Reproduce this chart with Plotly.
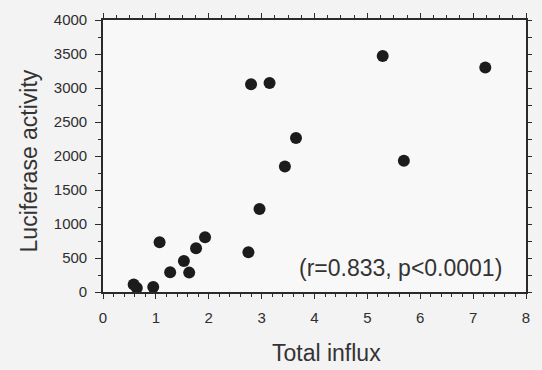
import plotly.graph_objects as go

# Data
influx = [0.58, 0.64, 0.95, 1.07, 1.27, 1.53, 1.63, 1.76, 1.93, 2.75, 2.80, 2.96, 3.15, 3.44, 3.65, 5.29, 5.69, 7.23]
luciferase = [110, 60, 75, 730, 290, 455, 285, 645, 805, 585, 3055, 1220, 3075, 1845, 2265, 3470, 1930, 3300]

x_ticks = [0, 1, 2, 3, 4, 5, 6, 7, 8]
y_ticks = [0, 500, 1000, 1500, 2000, 2500, 3000, 3500, 4000]

x_title = "Total influx"
y_title = "Luciferase activity"
stat_text = "(r=0.833, p<0.0001)"

axis_color = "#2a2a2a"
text_color = "#333333"
tick_font = dict(family="Liberation Sans, Arial, sans-serif", size=15, color="#2e2e2e")

fig = go.Figure()
fig.add_trace(go.Scatter(
    x=influx, y=luciferase, mode="markers",
    marker=dict(size=12, color="#1c1c1c", line=dict(width=0)),
    cliponaxis=False, showlegend=False, hoverinfo="x+y",
))
# invisible companion trace so the top/right axes are drawn
fig.add_trace(go.Scatter(
    x=influx, y=luciferase, mode="markers", xaxis="x2", yaxis="y2",
    marker=dict(size=1, opacity=0), showlegend=False, hoverinfo="skip",
))

fig.update_layout(
    width=542, height=370,
    margin=dict(l=103, r=16, t=11, b=78),
    paper_bgcolor="#f3f3f3",
    plot_bgcolor="#f8f8f8",
    xaxis=dict(
        range=[0, 8], tickvals=x_ticks, ticktext=[str(v) for v in x_ticks],
        showline=True, linecolor=axis_color, linewidth=1.6,
        ticks="outside", ticklen=5, tickwidth=1.3, tickcolor=axis_color,
        minor=dict(dtick=0.2, ticks="outside", ticklen=3, tickwidth=1.1, tickcolor=axis_color, showgrid=False),
        showgrid=False, zeroline=False, tickfont=tick_font, ticklabelstandoff=6,
        fixedrange=True,
    ),
    xaxis2=dict(
        range=[0, 8], overlaying="x", side="top", matches="x",
        showline=True, linecolor=axis_color, linewidth=1.6,
        tickvals=x_ticks, showticklabels=False,
        ticks="outside", ticklen=5, tickwidth=1.3, tickcolor=axis_color,
        minor=dict(dtick=0.25, ticks="outside", ticklen=3, tickwidth=1.1, tickcolor=axis_color, showgrid=False),
        showgrid=False, zeroline=False,
    ),
    yaxis=dict(
        range=[0, 4000], tickvals=y_ticks, ticktext=[str(v) for v in y_ticks],
        showline=True, linecolor=axis_color, linewidth=1.6,
        ticks="outside", ticklen=6, tickwidth=1.3, tickcolor=axis_color,
        minor=dict(dtick=250, ticks="outside", ticklen=3, tickwidth=1.1, tickcolor=axis_color, showgrid=False),
        showgrid=False, zeroline=False, tickfont=tick_font, ticklabelstandoff=5,
        fixedrange=True,
    ),
    yaxis2=dict(
        range=[0, 4000], overlaying="y", side="right", matches="y",
        showline=True, linecolor=axis_color, linewidth=1.6,
        dtick=250, tick0=0, showticklabels=False,
        ticks="outside", ticklen=4, tickwidth=1.2, tickcolor=axis_color,
        showgrid=False, zeroline=False,
    ),
    annotations=[
        dict(text=x_title, xref="paper", yref="paper", x=0.528, y=-0.224,
             xanchor="center", yanchor="middle", showarrow=False,
             font=dict(family="Liberation Sans, Arial, sans-serif", size=23, color=text_color)),
        dict(text=y_title, xref="paper", yref="paper", x=-0.176, y=0.482,
             xanchor="center", yanchor="middle", showarrow=False, textangle=-90,
             font=dict(family="Liberation Sans, Arial, sans-serif", size=23, color=text_color)),
        dict(text=stat_text, xref="paper", yref="paper", x=0.7025, y=0.089,
             xanchor="center", yanchor="middle", showarrow=False,
             font=dict(family="Liberation Sans, Arial, sans-serif", size=23, color=text_color)),
    ],
)

fig.write_html("out.html")
